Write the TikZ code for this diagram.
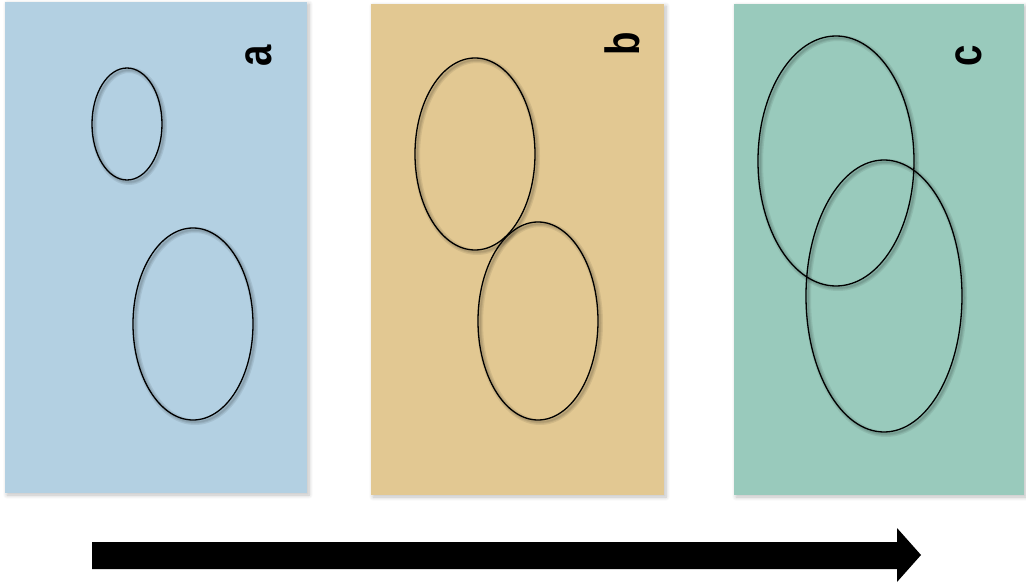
\documentclass[tikz,border=0pt]{standalone}
\usepackage{fontspec}
\setmainfont{Liberation Sans}
\usetikzlibrary{shadows.blur}
\definecolor{panelA}{RGB}{179,208,226}
\definecolor{panelB}{RGB}{226,200,146}
\definecolor{panelC}{RGB}{153,202,188}
\tikzset{
  panel/.style={fill=#1, draw=none, blur shadow={shadow xshift=2pt, shadow yshift=-2pt, shadow blur steps=6, shadow blur radius=4pt, shadow opacity=25}},
  blob/.style={draw=black, line width=1.3pt},
  blobshade/.style={draw=black, line width=#1, draw opacity=0.08},
  tag/.style={rotate=90, font=\fontsize{48}{48}\selectfont\bfseries, inner sep=0pt},
  bigarrow/.style={fill=black, draw=none}
}
\newcommand{\myblob}[4]{%
  \path[blobshade=6pt] ([shift={(2,2)}]#1,#2) ellipse [x radius=#3, y radius=#4];
  \path[blobshade=3.5pt] ([shift={(2,2)}]#1,#2) ellipse [x radius=#3, y radius=#4];
  \path[blobshade=1.5pt] ([shift={(2,2)}]#1,#2) ellipse [x radius=#3, y radius=#4];
  \path[blob] (#1,#2) ellipse [x radius=#3, y radius=#4];
}
\begin{document}
\begin{tikzpicture}[x=1pt,y=-1pt]
\useasboundingbox (0,0) rectangle (1026,583);
% panels
\path[panel=panelA] (5,2) rectangle (307,493);
\path[panel=panelB] (371,4) rectangle (664,495);
\path[panel=panelC] (734,4) rectangle (1024,495);
% ellipses
\myblob{127}{124}{35}{56}
\myblob{193}{324}{60}{96}
\myblob{475}{154}{60}{96}
\myblob{538}{321}{60}{99}
\myblob{836}{161}{78}{125}
\myblob{884}{296}{78}{136}
% labels
\node[tag] (la) at (259,56) {\scalebox{0.8}[1]{a}};
\node[tag] (lb) at (622,44) {\scalebox{0.8}[1]{b}};
\node[tag] (lc) at (969,56) {\scalebox{0.8}[1]{c}};
% arrow
\path[bigarrow] (92,542) -- (897,542) -- (897,528) -- (921,555) -- (897,582) -- (897,569) -- (92,569) -- cycle;
\end{tikzpicture}
\end{document}
